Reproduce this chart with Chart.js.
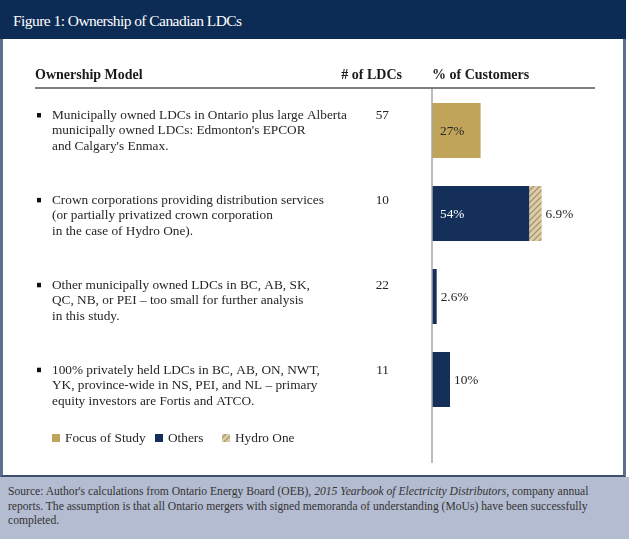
<!DOCTYPE html>
<html>
<head>
<meta charset="utf-8">
<script src="https://cdn.jsdelivr.net/npm/chart.js@4.4.0/dist/chart.umd.min.js"></script>
<style>
  body { margin: 0; width: 629px; height: 539px; overflow: hidden; background: #fff; font-family: "Liberation Serif", serif; }
  #frame { position: absolute; left: 0; top: 0; width: 620px; height: 475px; border-left: 3px solid #5c6f8e; border-right: 3px solid #5c6f8e; border-bottom: 2px solid #3d4f6e; }
  #header { position: absolute; left: 0; top: 0; width: 626px; height: 39px; background: #0c2b55; }
  #title { position: absolute; left: 13px; top: 11px; font-size: 15.5px; letter-spacing: -0.55px; line-height: 20px; color: #fff; }
  #footer { position: absolute; left: 0; top: 477px; width: 629px; height: 62px; background: #b3bcd0; color: #333; font-size: 11.6px; line-height: 14.5px; padding: 8px 0 0 8px; box-sizing: border-box; }
  #wrap { position: absolute; left: 0; top: 0; width: 629px; height: 539px; }
</style>
</head>
<body>
<div id="frame"></div>
<div id="header"><div id="title">Figure 1: Ownership of Canadian LDCs</div></div>
<div id="footer">Source: Author's calculations from Ontario Energy Board (OEB), <i>2015 Yearbook of Electricity Distributors</i>, company annual<br>reports. The assumption is that all Ontario mergers with signed memoranda of understanding (MoUs) have been successfully<br>completed.</div>
<div id="wrap"><canvas id="chartCanvas"></canvas></div>

<script>
// rows of the table, top to bottom
const categories = [
  ["Municipally owned LDCs in Ontario plus large Alberta", "municipally owned LDCs: Edmonton's EPCOR", "and Calgary's Enmax."],
  ["Crown corporations providing distribution services", "(or partially privatized crown corporation", "in the case of Hydro One)."],
  ["Other municipally owned LDCs in BC, AB, SK,", "QC, NB, or PEI \u2013 too small for further analysis", "in this study."],
  ["100% privately held LDCs in BC, AB, ON, NWT,", "YK, province-wide in NS, PEI, and NL \u2013 primary", "equity investors are Fortis and ATCO."]
];
const ldcCounts = [57, 10, 22, 11];

// % of customers
const focusOfStudy = [27, 0, 0, 0];
const others = [0, 54, 2.6, 10];
const hydroOne = [0, 6.9, 0, 0];

const seriesNames = ["Focus of Study", "Others", "Hydro One"];

const GOLD = "#bfa45a";
const NAVY = "#142f5a";
const TEXT = "#262626";

// hatched fill for Hydro One
function makeHatch() {
  const c = document.createElement("canvas");
  c.width = 6; c.height = 6;
  const g = c.getContext("2d");
  g.fillStyle = "#dccdaa";
  g.fillRect(0, 0, 6, 6);
  g.strokeStyle = "#a38d5e";
  g.lineWidth = 1.2;
  g.beginPath();
  g.moveTo(0, 6); g.lineTo(6, 0);
  g.moveTo(-3, 3); g.lineTo(3, -3);
  g.moveTo(3, 9); g.lineTo(9, 3);
  g.stroke();
  return g.createPattern(c, "repeat");
}
const hatch = makeHatch();

const fmt = (v) => v + "%";

const tablePlugin = {
  id: "tablePlugin",
  afterDatasetsDraw(chart) {
    const ctx = chart.ctx;
    const x = chart.scales.x;
    const y = chart.scales.y;
    const x0 = x.getPixelForValue(0);
    ctx.save();

    // vertical axis line
    ctx.strokeStyle = "#a6a6a6";
    ctx.lineWidth = 1.5;
    ctx.beginPath();
    ctx.moveTo(x0, 88);
    ctx.lineTo(x0, 463);
    ctx.stroke();

    // header rule
    ctx.strokeStyle = "#555";
    ctx.lineWidth = 1.3;
    ctx.beginPath();
    ctx.moveTo(35, 88);
    ctx.lineTo(595, 88);
    ctx.stroke();

    // header texts
    ctx.fillStyle = "#1a1a1a";
    ctx.textBaseline = "middle";
    ctx.font = "bold 14px 'Liberation Serif'";
    ctx.textAlign = "left";
    ctx.fillText("Ownership Model", 35, 75);
    ctx.fillText("% of Customers", x0, 75);
    ctx.textAlign = "right";
    ctx.fillText("# of LDCs", 402, 75);

    // row texts
    ctx.font = "13.3px 'Liberation Serif'";
    categories.forEach((lines, i) => {
      const top = y.getPixelForValue(i) - 15 + 1.9 * i;
      ctx.fillStyle = "#111";
      ctx.fillRect(37, top - 2.5, 4, 4.5);
      ctx.fillStyle = TEXT;
      ctx.textAlign = "left";
      lines.forEach((ln, k) => ctx.fillText(ln, 52, top + k * 15.5));
      ctx.textAlign = "right";
      ctx.fillText(String(ldcCounts[i]), 389, top);
    });

    // value labels
    ctx.textAlign = "left";
    categories.forEach((_, i) => {
      let acc = 0;
      chart.data.datasets.forEach((ds, d) => {
        const v = ds.data[i];
        if (!v) return;
        const start = x.getPixelForValue(acc);
        const stop = x.getPixelForValue(acc + v);
        const cy = y.getPixelForValue(i) + 1;
        if (stop - start > 40) {
          ctx.fillStyle = d === 1 ? "#fff" : TEXT;
          ctx.fillText(fmt(v), start + 8, cy);
        } else {
          ctx.fillStyle = TEXT;
          ctx.fillText(fmt(v), stop + 4, cy);
        }
        acc += v;
      });
    });

    // legend
    const items = [[52, GOLD, seriesNames[0]], [155, NAVY, seriesNames[1]], [222, hatch, seriesNames[2]]];
    items.forEach(([lx, col, name]) => {
      ctx.fillStyle = col;
      ctx.fillRect(lx, 434, 8, 8);
      ctx.fillStyle = TEXT;
      ctx.fillText(name, lx + 13, 438.5);
    });

    ctx.restore();
  }
};

new Chart(document.getElementById("chartCanvas"), {
  type: "bar",
  data: {
    labels: categories.map((c) => c[0]),
    datasets: [
      { label: seriesNames[0], data: focusOfStudy, backgroundColor: GOLD },
      { label: seriesNames[1], data: others, backgroundColor: NAVY },
      { label: seriesNames[2], data: hydroOne, backgroundColor: hatch }
    ]
  },
  options: {
    indexAxis: "y",
    responsive: true,
    maintainAspectRatio: false,
    animation: false,
    datasets: { bar: { barPercentage: 0.663, categoryPercentage: 1 } },
    layout: { padding: { left: 432, top: 89, right: 17, bottom: 118 } },
    scales: {
      x: { stacked: true, min: 0, max: 100, display: false },
      y: { stacked: true, display: false }
    },
    plugins: { legend: { display: false }, tooltip: { enabled: false } }
  },
  plugins: [tablePlugin]
});
</script>
</body>
</html>
